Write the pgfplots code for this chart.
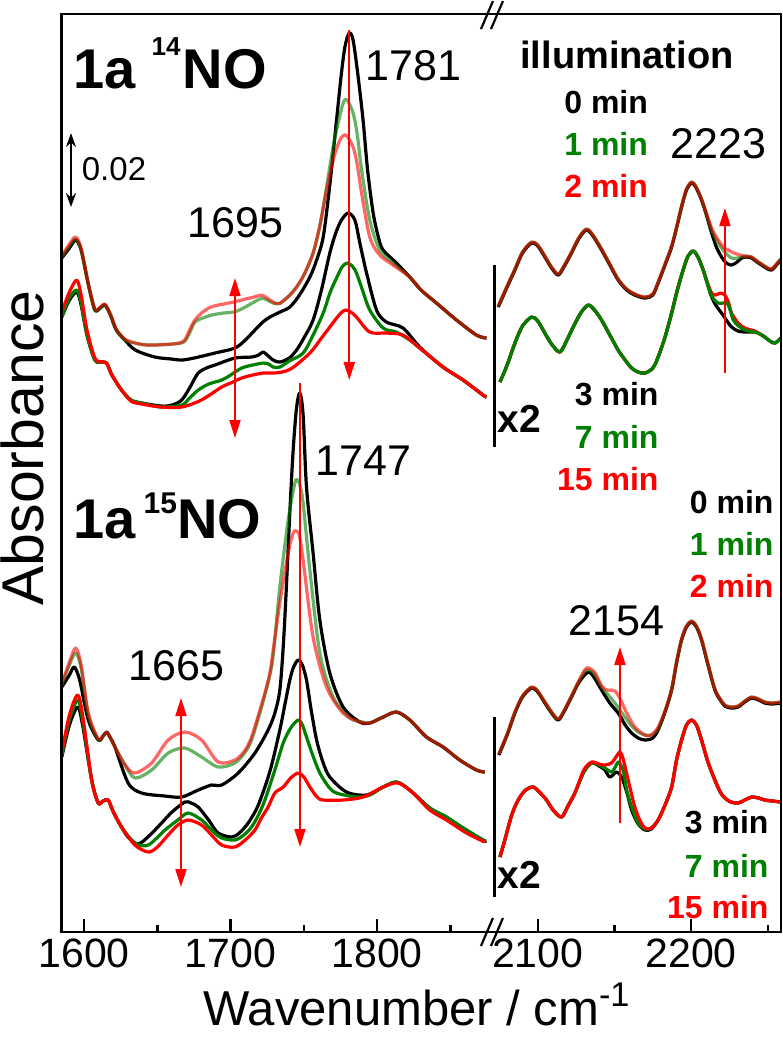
\documentclass[border=0pt]{standalone}
\usepackage{pgfplots}
\pgfplotsset{compat=1.18}
\usetikzlibrary{arrows.meta}
\usepackage{fontspec}
\setmainfont{Liberation Sans}
\definecolor{dgreen}{RGB}{0,128,0}
\definecolor{pred}{RGB}{255,0,0}
\pgfplotsset{
  panel/.style={
    scale only axis, height=459pt, ymin=-932, ymax=-14,
    y filter/.expression={-y},
    axis line style={draw=none},
    ytick=\empty, tick align=inside, xtick pos=bottom,
    major tick length=6.5pt, minor tick length=3.5pt,
    tick style={black, line width=1.2pt},
    xticklabel style={font=\fontsize{20.5}{21}\selectfont},
    /pgf/number format/assume math mode=true,
    /pgf/number format/1000 sep={},
    no markers, clip=true,
  },
  k/.style={black, line width=1.6pt, smooth, tension=0.5, line join=round},
  g/.style={dgreen, line width=1.6pt, smooth, tension=0.5, line join=round},
  r/.style={pred, line width=1.6pt, smooth, tension=0.5, line join=round},
  gl/.style={dgreen, opacity=0.6, line width=1.6pt, smooth, tension=0.5, line join=round},
  rl/.style={pred, opacity=0.6, line width=1.6pt, smooth, tension=0.5, line join=round},
}
\begin{document}
\begin{tikzpicture}
\begin{scope}[x=0.5pt,y=-0.5pt]
\path[use as bounding box] (0,0) rectangle (783,1038);
\end{scope}
% ---------------- left part ----------------
\begin{axis}[panel, at={(30.75pt,-466pt)}, anchor=south west, width=214.25pt,
  xmin=1584.6, xmax=1877, xtick={1600,1700,1800}, minor xtick={1650,1750,1850}]
% 14NO upper
\addplot[k] coordinates {(1584.8,258) (1590,248) (1594.3,240) (1598,250) (1603,285) (1607.4,310) (1611,308) (1614.3,305) (1618,315) (1622,330) (1627.9,340) (1635,350) (1648.4,357) (1660,359) (1666.6,360) (1675,358) (1689.3,353) (1702.9,348) (1710,340) (1716.6,330) (1722,322) (1726.8,317) (1733.6,312) (1740.4,307) (1747,295) (1754.1,277) (1758.7,260) (1763.2,237) (1767.7,185) (1772.3,120) (1775.5,75) (1778,47) (1780.9,33) (1783.6,40) (1786.9,75) (1790.4,120) (1793.5,170) (1797.3,213) (1801,238) (1804.1,250) (1813.2,263) (1822.3,277) (1830,290) (1840.5,303) (1854.2,320) (1867.8,335) (1874.6,338)};
\addplot[gl] coordinates {(1584.8,257) (1590,246) (1594.3,239) (1598,250) (1603,285) (1607.4,310) (1611,308) (1614.3,305) (1618,315) (1622,330) (1627.9,340) (1635,343) (1643.8,345) (1660,344) (1668,342) (1672,333) (1675.6,322) (1681,318) (1687,315) (1695,313) (1702.9,311.7) (1710,307) (1716,302) (1721.1,298.3) (1725,300) (1729,303) (1733.6,303.3) (1740.4,295) (1745,287) (1750,275) (1756.3,253) (1761,225) (1765.5,187) (1769,155) (1772.3,130) (1776.8,103) (1779.5,100) (1783.6,113) (1786.5,135) (1789.4,170) (1795,220) (1801.8,250) (1810.9,263) (1822.3,277) (1830,290) (1840.5,303) (1854.2,320) (1867.8,335) (1874.6,338)};
\addplot[rl] coordinates {(1584.8,256) (1590,244) (1594.3,237) (1598,248) (1603,284) (1607.4,309) (1611,307) (1614.3,304) (1618,314) (1622,329) (1627.9,339) (1635,343) (1643.8,345) (1660,344) (1668,341) (1672,330) (1675.6,320) (1681,312) (1687,306.7) (1695,304) (1702.9,301.7) (1710,299) (1716,297) (1721.1,295) (1725,298) (1729,302) (1733.6,303.3) (1740.4,295) (1745,287) (1750,275) (1756.3,253) (1761,225) (1765.5,190) (1770,160) (1774.6,140) (1778.6,135) (1783.6,147) (1786.5,165) (1789.4,193) (1795,237) (1801.8,255) (1810.9,265) (1822.3,277) (1830,290) (1840.5,303) (1854.2,320) (1867.8,335) (1874.6,338)};
% 14NO lower
\addplot[k] coordinates {(1584.8,317) (1590,300) (1595,292) (1598,305) (1602,335) (1607.4,360) (1612,362) (1615.4,363) (1619,375) (1625.6,390) (1632,400) (1639.3,403) (1652.9,406) (1660,405) (1666.6,400) (1672,388) (1677.9,373) (1685,367) (1689.3,365) (1702.9,358) (1714.3,357) (1719,355) (1722.2,352) (1725,355) (1729.1,360) (1733.6,362) (1740,358) (1745,350) (1750,338) (1756.3,320) (1762,290) (1767.7,253) (1772,232) (1775.7,220) (1780.2,213) (1784.8,220) (1788.5,245) (1792.8,273) (1799.6,310) (1806.4,322) (1817.7,328) (1829.1,347) (1845,367) (1858.7,380) (1872.3,395) (1874.6,397)};
\addplot[g] coordinates {(1584.8,317) (1590,298) (1595,290) (1598,303) (1602,335) (1607.4,360) (1612,362) (1615.4,363) (1619,375) (1625.6,390) (1632,400) (1639.3,403) (1652.9,407) (1666.6,405) (1672,398) (1677.9,390) (1685,384) (1693.9,380) (1700,375) (1707.5,368) (1715,365) (1722.2,363) (1726,364) (1729.1,367) (1733.6,367) (1740,361) (1749.5,353) (1756.3,335) (1763.2,313) (1768,292) (1772.3,278) (1776,267) (1779.5,263) (1783,266) (1785.9,273) (1790,290) (1795,310) (1804.1,328) (1813.2,332) (1822.3,340) (1829.1,348) (1845,367) (1858.7,380) (1872.3,395) (1874.6,397)};
\addplot[r] coordinates {(1584.8,312) (1590,292) (1595,280) (1598,295) (1602,330) (1607.4,358) (1612,362) (1615.4,363) (1619,375) (1625.6,390) (1632,401) (1639.3,404) (1652.9,407) (1666.6,407) (1680,400) (1693.9,387) (1700,383) (1707.5,378) (1715,375) (1722.2,373) (1729.1,373) (1735,372) (1742,368) (1754.1,353) (1762,338) (1767.7,327) (1774,315) (1778,310) (1782,312) (1785.9,317) (1795,332) (1806.4,333) (1817.7,335) (1829.1,348) (1845,367) (1858.7,380) (1872.3,395) (1874.6,397)};
% 15NO upper
\addplot[k] coordinates {(1584.8,687) (1590,675) (1593.3,667) (1597,680) (1602.9,720) (1609.7,740) (1613,736) (1615.4,732) (1618,738) (1621.1,747) (1630.1,783) (1639.3,793) (1655.2,796) (1666.6,797) (1677.9,790) (1687,785) (1693.9,785) (1705.2,773) (1716.6,753) (1725.6,730) (1730.2,713) (1733.6,690) (1736,645) (1738.2,583) (1740.5,510) (1742.7,450) (1745,408) (1747.3,393) (1749.5,415) (1751.8,487) (1756.3,553) (1760.9,620) (1767.7,673) (1776.8,707) (1788.2,722) (1795,723) (1804.1,717) (1813.2,712) (1822.3,720) (1833.7,737) (1845,747) (1856.4,760) (1867.8,770) (1873.4,772)};
\addplot[gl] coordinates {(1584.8,685) (1590,665) (1594.3,653) (1598,668) (1602.9,715) (1609.7,740) (1613,736) (1615.4,732) (1618,738) (1621.1,747) (1628,765) (1634.7,778) (1646.1,770) (1657.4,753) (1668.8,748) (1680.2,757) (1691.5,767) (1702.9,763) (1710,752) (1714.3,740) (1719,718) (1723.4,695) (1726.8,675) (1729.1,655) (1733.6,587) (1739.3,520) (1743.9,483) (1745.7,480) (1747.5,486) (1749.5,503) (1754.1,570) (1760.9,653) (1770,697) (1781.4,718) (1790.4,722) (1795,723) (1804.1,717) (1813.2,712) (1822.3,720) (1833.7,737) (1845,747) (1856.4,760) (1867.8,770) (1873.4,772)};
\addplot[rl] coordinates {(1584.8,684) (1590,662) (1594.3,648) (1598,665) (1602.9,713) (1609.7,739) (1613,736) (1615.4,732) (1618,738) (1621.1,747) (1628,765) (1634.7,773) (1646.1,763) (1657.4,740) (1668.8,732) (1680.2,740) (1691.5,762) (1702.9,760) (1710,750) (1714.3,737) (1719,715) (1723.4,693) (1726.8,673) (1729.1,650) (1733.6,603) (1739.3,553) (1742.7,533) (1745,531) (1747,536) (1749.5,560) (1756.3,637) (1765.5,687) (1776.8,713) (1788.2,722) (1795,723) (1804.1,717) (1813.2,712) (1822.3,720) (1833.7,737) (1845,747) (1856.4,760) (1867.8,770) (1873.4,772)};
% 15NO lower
\addplot[k] coordinates {(1584.8,757) (1590,725) (1595.6,707) (1599,725) (1605.2,780) (1609.7,803) (1613,801) (1616.5,800) (1620,812) (1625.6,827) (1630,837) (1637,844) (1645,835) (1652.9,823) (1660,812) (1668.8,802) (1673,803) (1677.9,807) (1685,820) (1691.5,833) (1700.7,837) (1706,833) (1712,823) (1718,808) (1723.4,787) (1728,765) (1733.6,730) (1737,705) (1740.4,680) (1743,667) (1746.1,660) (1749,665) (1751.8,680) (1755,710) (1758.7,740) (1763,762) (1767.7,777) (1779.1,792) (1792.8,795) (1804.1,787) (1813.2,782) (1822.3,790) (1835.9,808) (1847.3,817) (1858.7,828) (1872.3,840) (1874.6,841)};
\addplot[g] coordinates {(1584.8,755) (1590,720) (1595.6,700) (1599,720) (1605.2,780) (1609.7,803) (1613,801) (1616.5,800) (1620,812) (1625.6,827) (1634.7,843) (1643.8,845) (1655.2,830) (1664,820) (1671.1,813) (1680.2,820) (1687,830) (1693.9,838) (1702.9,840) (1709,835) (1714.3,827) (1719,815) (1723.4,800) (1730.2,770) (1735.9,743) (1741,728) (1746.1,720) (1749,725) (1751.8,737) (1756,755) (1760.9,773) (1767,787) (1772.3,793) (1785.9,797) (1795,795) (1804.1,787) (1813.2,782) (1822.3,790) (1835.9,808) (1847.3,817) (1858.7,828) (1872.3,840) (1874.6,841)};
\addplot[r] coordinates {(1584.8,753) (1590,715) (1595.6,695) (1599,715) (1605.2,780) (1609.7,803) (1613,801) (1616.5,800) (1620,812) (1625.6,827) (1634.7,845) (1643.8,852) (1650,847) (1657.4,835) (1664,825) (1671.1,820) (1680.2,825) (1687,835) (1693.9,845) (1702.9,847) (1710,840) (1716.6,830) (1721,818) (1725.6,807) (1730.2,793) (1735.9,787) (1741,778) (1746.1,773) (1750,777) (1754.1,787) (1759,797) (1763.2,800) (1776.8,800) (1790.4,797) (1804.1,787) (1814.3,783) (1824.5,793) (1835.9,810) (1847.3,820) (1861,833) (1873.4,842)};
\end{axis}
% ---------------- right part ----------------
\begin{axis}[panel, at={(245pt,-466pt)}, anchor=south west, width=145.5pt,
  xmin=2068.8, xmax=2258.6, xtick={2100,2200}, minor xtick={2150,2250}]
% 14NO upper (x2)
\addplot[k] coordinates {(2074.2,307) (2080,287) (2085.1,270) (2090,253) (2096,243) (2100,246) (2104.6,257) (2109,268) (2113.3,275) (2117,267) (2122,253) (2127,238) (2131.8,230) (2136,236) (2141.6,250) (2147,265) (2152.4,280) (2158,290) (2163.3,295) (2169.9,298) (2175,295) (2178.5,283) (2183,265) (2187.3,247) (2191,225) (2193.8,207) (2197,190) (2200.3,183) (2203,187) (2206.8,200) (2210,215) (2213.4,233) (2216.5,247) (2219.9,257) (2223,263) (2226.4,265) (2230,262) (2232.9,258) (2236,257) (2239.5,258) (2243,262) (2246,265) (2249,268) (2252.5,270) (2256.8,263) (2258.6,260)};
\addplot[gl] coordinates {(2074.2,306) (2080,286) (2085.1,269) (2090,252) (2096,242) (2100,245) (2104.6,256) (2109,267) (2113.3,274) (2117,266) (2122,252) (2127,237) (2131.8,229) (2136,235) (2141.6,249) (2147,264) (2152.4,279) (2158,289) (2163.3,294) (2169.9,297) (2175,294) (2178.5,282) (2183,264) (2187.3,246) (2191,224) (2193.8,206) (2197,189) (2200.3,182) (2203,186) (2206.8,199) (2210,214) (2213.4,230) (2217.7,243) (2222,252) (2226.4,258) (2230,258) (2232.9,257) (2236,256) (2239.5,257) (2243,261) (2246,264) (2249,267) (2252.5,269) (2256.8,262) (2258.6,259)};
\addplot[rl] coordinates {(2074.2,306) (2080,286) (2085.1,269) (2090,252) (2096,242) (2100,245) (2104.6,256) (2109,267) (2113.3,274) (2117,266) (2122,252) (2127,237) (2131.8,229) (2136,235) (2141.6,249) (2147,264) (2152.4,279) (2158,289) (2163.3,294) (2169.9,297) (2175,294) (2178.5,282) (2183,264) (2187.3,246) (2191,224) (2193.8,206) (2197,189) (2200.3,182) (2203,186) (2206.8,199) (2210,213) (2213.4,228) (2217.7,240) (2221,247) (2224.2,250) (2228,253) (2232,255) (2235,256) (2239.5,257) (2243,261) (2246,264) (2249,267) (2252.5,269) (2256.8,262) (2258.6,259)};
% 14NO lower (x2)
\addplot[k] coordinates {(2075.3,382) (2080,365) (2085.1,343) (2090,326) (2096,317) (2100,321) (2104.6,333) (2109,344) (2114.4,352) (2119,340) (2123.1,327) (2128,313) (2132.9,305) (2137,310) (2141.6,320) (2147,335) (2152.4,350) (2157,360) (2161.2,368) (2165.5,372) (2169.9,373) (2175,368) (2178.5,357) (2183,337) (2187.3,313) (2191,290) (2194.8,270) (2198,256) (2201.4,251) (2204.5,257) (2207.9,270) (2210.5,283) (2213.4,297) (2216.5,306) (2219.9,313) (2223,320) (2226.4,327) (2230.7,331) (2235.1,332) (2241.6,332) (2245,334) (2248.1,337) (2251.5,341) (2254.7,343) (2258.6,338)};
\addplot[r] coordinates {(2075.3,382) (2080,365) (2085.1,343) (2090,326) (2096,317) (2100,321) (2104.6,333) (2109,344) (2114.4,352) (2119,340) (2123.1,327) (2128,313) (2132.9,305) (2137,310) (2141.6,320) (2147,335) (2152.4,350) (2157,360) (2161.2,368) (2165.5,372) (2169.9,373) (2175,368) (2178.5,357) (2183,337) (2187.3,313) (2191,290) (2194.8,270) (2198,256) (2201.4,251) (2204.5,257) (2207.9,270) (2210.5,282) (2213.4,293) (2216,295) (2219,293) (2222,295) (2224.5,303) (2226.4,313) (2230.7,323) (2235.1,328) (2241.6,331) (2245,334) (2248.1,337) (2251.5,341) (2254.7,343) (2258.6,338)};
\addplot[g] coordinates {(2075.3,382) (2080,365) (2085.1,343) (2090,326) (2096,317) (2100,321) (2104.6,333) (2109,344) (2114.4,352) (2119,340) (2123.1,327) (2128,313) (2132.9,305) (2137,310) (2141.6,320) (2147,335) (2152.4,350) (2157,360) (2161.2,368) (2165.5,372) (2169.9,373) (2175,368) (2178.5,357) (2183,337) (2187.3,313) (2191,290) (2194.8,270) (2198,256) (2201.4,251) (2204.5,257) (2207.9,270) (2210.5,283) (2213.4,296) (2217.7,303) (2223.2,303) (2225.5,310) (2227.5,320) (2231,326) (2235.1,330) (2241.6,332) (2245,334) (2248.1,337) (2251.5,341) (2254.7,343) (2258.6,338)};
% 15NO upper (x2)
\addplot[k] coordinates {(2074.6,755) (2080,735) (2085.1,713) (2090,697) (2096,688) (2100,692) (2104.6,703) (2109,713) (2113.3,720) (2117,712) (2122,697) (2127,682) (2132.9,672) (2137,678) (2141.6,690) (2147,703) (2152.4,713) (2157,725) (2161.2,733) (2165.5,738) (2169.9,740) (2175,738) (2178.5,730) (2183,712) (2187.3,690) (2190.5,663) (2193.8,640) (2197,627) (2200.3,622) (2203.5,627) (2206.8,640) (2211,665) (2215.5,690) (2219,700) (2222,706) (2226,708) (2230.7,707) (2235,702) (2239.5,698) (2244,700) (2248.1,703) (2253,704) (2258.6,703)};
\addplot[gl] coordinates {(2074.6,754) (2080,734) (2085.1,712) (2090,696) (2096,687) (2100,691) (2104.6,702) (2109,712) (2113.3,719) (2117,711) (2122,696) (2127,681) (2131.8,670) (2137,674) (2141.6,687) (2146,695) (2150.3,703) (2153.6,710) (2156.8,717) (2161.2,726) (2165.5,732) (2169.9,735) (2174,735) (2178.5,729) (2183,711) (2187.3,689) (2190.5,662) (2193.8,639) (2197,626) (2200.3,621) (2203.5,626) (2206.8,639) (2211,664) (2215.5,689) (2219,699) (2222,705) (2226,707) (2230.7,706) (2235,701) (2239.5,697) (2244,699) (2248.1,702) (2253,703) (2258.6,702)};
\addplot[rl] coordinates {(2074.6,754) (2080,734) (2085.1,712) (2090,696) (2096,687) (2100,691) (2104.6,702) (2109,712) (2113.3,719) (2117,711) (2122,696) (2127,680) (2131.8,668) (2137,672) (2141.6,686) (2145,690) (2148.1,690) (2150.3,691) (2152.4,695) (2155,703) (2158,713) (2163.3,727) (2169.9,735) (2174,735) (2178.5,727) (2183,711) (2187.3,689) (2190.5,662) (2193.8,639) (2197,626) (2200.3,621) (2203.5,626) (2206.8,639) (2211,664) (2215.5,689) (2219,699) (2222,705) (2226,707) (2230.7,706) (2235,701) (2239.5,697) (2244,699) (2248.1,702) (2253,703) (2258.6,702)};
% 15NO lower (x2)
\addplot[k] coordinates {(2075.3,857) (2078.5,840) (2083,815) (2087.2,800) (2092,790) (2097,787) (2101,792) (2105.7,800) (2110,810) (2115.5,817) (2120,805) (2124.2,793) (2130,772) (2135.1,763) (2140,766) (2143.8,770) (2147,777) (2151.4,772) (2154.7,777) (2158,792) (2161.2,810) (2165.5,824) (2169.9,830) (2174,829) (2178.5,820) (2183,805) (2187.3,787) (2190.5,760) (2193.8,740) (2197,725) (2200.3,720) (2203.5,725) (2206.8,740) (2211,762) (2215.5,780) (2219,792) (2222,798) (2226,802) (2230.7,803) (2235,800) (2239.5,797) (2244,798) (2248.1,800) (2253,801) (2258.6,802)};
\addplot[g] coordinates {(2075.3,857) (2078.5,840) (2083,815) (2087.2,800) (2092,790) (2097,787) (2101,792) (2105.7,800) (2110,810) (2115.5,817) (2120,805) (2124.2,793) (2130,772) (2135.1,763) (2140,765) (2143.8,768) (2148.1,772) (2150.5,767) (2152.4,762) (2154.5,766) (2156,772) (2158,790) (2161.2,807) (2165.5,823) (2169.9,829) (2174,828) (2178.5,820) (2183,805) (2187.3,787) (2190.5,760) (2193.8,740) (2197,725) (2200.3,720) (2203.5,725) (2206.8,740) (2211,762) (2215.5,780) (2219,792) (2222,798) (2226,802) (2230.7,803) (2235,800) (2239.5,797) (2244,798) (2248.1,800) (2253,801) (2258.6,802)};
\addplot[r] coordinates {(2075.3,857) (2078.5,840) (2083,815) (2087.2,800) (2092,790) (2097,787) (2101,792) (2105.7,800) (2110,810) (2115.5,817) (2120,805) (2124.2,793) (2130,770) (2135.1,762) (2140,764) (2143.8,765) (2148.1,763) (2151,757) (2153.6,752) (2155.5,758) (2157.9,773) (2160.5,790) (2163.3,807) (2166.5,820) (2169.9,828) (2174,828) (2178.5,820) (2183,805) (2187.3,787) (2190.5,760) (2193.8,740) (2197,725) (2200.3,720) (2203.5,725) (2206.8,740) (2211,762) (2215.5,780) (2219,792) (2222,798) (2226,802) (2230.7,803) (2235,800) (2239.5,797) (2244,798) (2248.1,800) (2253,801) (2258.6,802)};
\end{axis}
% ---------------- frame, labels, arrows ----------------
\begin{scope}[x=0.5pt,y=-0.5pt]
\draw[line width=1.25pt] (61.5,14) rectangle (781,932);
\draw[line width=1.1pt] (481,29) -- (493,1) (491,29) -- (503,1);
\draw[line width=1.1pt] (481,946) -- (493,918) (491,946) -- (503,918);
% axis titles
\node[anchor=base, inner sep=0] at (417,1025) {\fontsize{24.5}{25}\selectfont Wavenumber / cm\textsuperscript{-1}};
\node[rotate=90, anchor=base, inner sep=0] at (44,448) {\fontsize{29.5}{30}\selectfont Absorbance};
% panel titles
\node[anchor=base west, inner sep=0] at (73,88) {\fontsize{28}{28}\selectfont\bfseries 1a\hspace{8pt}\raisebox{16.5pt}{\fontsize{13}{13}\selectfont 14}\hspace{1pt}NO};
\node[anchor=base west, inner sep=0] at (73,538) {\fontsize{28}{28}\selectfont\bfseries 1a\hspace{4pt}\raisebox{12.5pt}{\fontsize{15}{15}\selectfont 15}NO};
% peak labels
\node[anchor=base west, inner sep=0] at (365,80) {\fontsize{21.5}{22}\selectfont 1781};
\node[anchor=base west, inner sep=0] at (187,237) {\fontsize{21.5}{22}\selectfont 1695};
\node[anchor=base west, inner sep=0] at (315,475) {\fontsize{21.5}{22}\selectfont 1747};
\node[anchor=base west, inner sep=0] at (128,680) {\fontsize{21.5}{22}\selectfont 1665};
\node[anchor=base west, inner sep=0] at (670,158) {\fontsize{21.5}{22}\selectfont 2223};
\node[anchor=base west, inner sep=0] at (568,635) {\fontsize{21.5}{22}\selectfont 2154};
% scale bar
\draw[black, line width=0.9pt, {Stealth[length=7pt,width=5pt]}-{Stealth[length=7pt,width=5pt]}] (71,133) -- (71,207);
\node[anchor=base west, inner sep=0] at (81.5,180) {\fontsize{16.5}{17}\selectfont 0.02};
% legend texts
\node[anchor=base west, inner sep=0] at (520,68) {\fontsize{19}{19}\selectfont\bfseries illumination};
\node[anchor=base west, inner sep=0] at (564,113) {\fontsize{16}{16}\selectfont\bfseries 0 min};
\node[anchor=base west, inner sep=0, text=dgreen] at (564,155) {\fontsize{16}{16}\selectfont\bfseries 1 min};
\node[anchor=base west, inner sep=0, text=pred] at (564,197) {\fontsize{16}{16}\selectfont\bfseries 2 min};
\node[anchor=base east, inner sep=0] at (659,405) {\fontsize{16}{16}\selectfont\bfseries 3 min};
\node[anchor=base east, inner sep=0, text=dgreen] at (659,448) {\fontsize{16}{16}\selectfont\bfseries 7 min};
\node[anchor=base east, inner sep=0, text=pred] at (659,490) {\fontsize{16}{16}\selectfont\bfseries 15 min};
\node[anchor=base east, inner sep=0] at (774,513) {\fontsize{16}{16}\selectfont\bfseries 0 min};
\node[anchor=base east, inner sep=0, text=dgreen] at (774,555) {\fontsize{16}{16}\selectfont\bfseries 1 min};
\node[anchor=base east, inner sep=0, text=pred] at (774,597) {\fontsize{16}{16}\selectfont\bfseries 2 min};
\node[anchor=base east, inner sep=0] at (769,833) {\fontsize{16}{16}\selectfont\bfseries 3 min};
\node[anchor=base east, inner sep=0, text=dgreen] at (769,877) {\fontsize{16}{16}\selectfont\bfseries 7 min};
\node[anchor=base east, inner sep=0, text=pred] at (769,918) {\fontsize{16}{16}\selectfont\bfseries 15 min};
% x2 markers
\draw[line width=1.5pt] (494.3,265) -- (494.3,447);
\node[anchor=base west, inner sep=0] at (497,432) {\fontsize{19.5}{20}\selectfont\bfseries x2};
\draw[line width=1.5pt] (494.3,717) -- (494.3,897);
\node[anchor=base west, inner sep=0] at (497,888) {\fontsize{19.5}{20}\selectfont\bfseries x2};
% red arrows
\tikzset{ra/.style={pred, line width=1pt}}
\draw[ra, {Triangle[length=9pt,width=5.5pt]}-{Triangle[length=9pt,width=5.5pt]}] (235,278) -- (235,438);
\draw[ra, -{Triangle[length=9pt,width=5.5pt]}] (349.3,30) -- (349.3,380);
\draw[ra, -{Triangle[length=9pt,width=5.5pt]}] (300,383) -- (300,847);
\draw[ra, {Triangle[length=9pt,width=5.5pt]}-{Triangle[length=9pt,width=5.5pt]}] (181,698) -- (181,887);
\draw[ra, -{Triangle[length=9pt,width=5.5pt]}] (725,373) -- (725,208);
\draw[ra, -{Triangle[length=9pt,width=5.5pt]}] (620,823) -- (620,647);
\end{scope}
\end{tikzpicture}
\end{document}
